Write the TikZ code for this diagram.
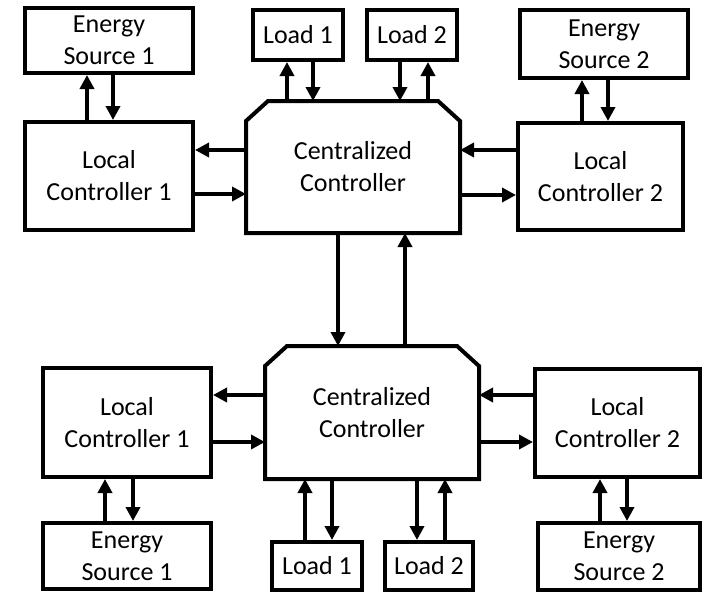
\documentclass[tikz,border=0pt]{standalone}
\usepackage{fontspec}
\setmainfont{Carlito}
\usetikzlibrary{arrows.meta, positioning}

\begin{document}
\begin{tikzpicture}[x=1pt, y=-1pt,
        box/.style={draw, line width=4pt, align=center, inner sep=0pt, font=\fontsize{26}{32}\selectfont},
        hub/.style={box, draw=none},
        arr/.style={line width=3.5pt, -{Triangle[length=14pt, width=14pt]}}]
        \useasboundingbox (0,0) rectangle (702,597);

        % upper system
        \node[hub, minimum width=210pt, minimum height=128pt] (cc) at (353,167) {Centralized\\Controller};
        \draw[line width=4pt] (cc.south west) -- ([yshift=-20pt]cc.north west) -- ([xshift=22pt]cc.north west)
            -- ([xshift=-22pt]cc.north east) -- ([yshift=-20pt]cc.north east) -- (cc.south east) -- cycle;
        \node[box, minimum width=168pt, minimum height=65pt] (es1) at (109,40.5) {Energy\\Source 1};
        \node[box, minimum width=168pt, minimum height=108pt] (lc1) at (109,176) {Local\\Controller 1};
        \node[box, minimum width=90pt, minimum height=50pt] (load1) at (298,35) {Load 1};
        \node[box, minimum width=90pt, minimum height=50pt] (load2) at (412,35) {Load 2};
        \node[box, minimum width=168pt, minimum height=68pt] (es2) at (604,44) {Energy\\Source 2};
        \node[box, minimum width=165pt, minimum height=107pt] (lc2) at (600.5,176.5) {Local\\Controller 2};

        \draw[arr] ([xshift=-22pt]es1.south |- lc1.north) -- ([xshift=-22pt]es1.south);
        \draw[arr] ([xshift=4pt]es1.south) -- ([xshift=4pt]es1.south |- lc1.north);
        \draw[arr] ([xshift=-22pt]es2.south |- lc2.north) -- ([xshift=-22pt]es2.south);
        \draw[arr] ([xshift=4pt]es2.south) -- ([xshift=4pt]es2.south |- lc2.north);
        \draw[arr] ([xshift=-11pt]load1.south |- cc.north) -- ([xshift=-11pt]load1.south);
        \draw[arr] ([xshift=15pt]load1.south) -- ([xshift=15pt]load1.south |- cc.north);
        \draw[arr] ([xshift=-12pt]load2.south) -- ([xshift=-12pt]load2.south |- cc.north);
        \draw[arr] ([xshift=16pt]load2.south |- cc.north) -- ([xshift=16pt]load2.south);
        \draw[arr] ([yshift=26pt]lc1.east -| cc.west) -- ([yshift=26pt]lc1.east);
        \draw[arr] ([yshift=-18pt]lc1.east) -- ([yshift=-18pt]lc1.east -| cc.west);
        \draw[arr] ([yshift=26.5pt]lc2.west) -- ([yshift=26.5pt]lc2.west -| cc.east);
        \draw[arr] ([yshift=-18.5pt]lc2.west -| cc.east) -- ([yshift=-18.5pt]lc2.west);

        % lower system
        \node[hub, minimum width=210pt, minimum height=129pt] (cc2) at (372,412.5) {Centralized\\Controller};
        \draw[line width=4pt] (cc2.south west) -- ([yshift=-20pt]cc2.north west) -- ([xshift=22pt]cc2.north west)
            -- ([xshift=-22pt]cc2.north east) -- ([yshift=-20pt]cc2.north east) -- (cc2.south east) -- cycle;
        \node[box, minimum width=168pt, minimum height=109pt] (lc3) at (127,422.5) {Local\\Controller 1};
        \node[box, minimum width=168pt, minimum height=66pt] (es3) at (127,556) {Energy\\Source 1};
        \node[box, minimum width=165pt, minimum height=108pt] (lc4) at (617.5,423) {Local\\Controller 2};
        \node[box, minimum width=162pt, minimum height=67pt] (es4) at (619,556.5) {Energy\\Source 2};
        \node[box, minimum width=90pt, minimum height=48pt] (load3) at (317,566) {Load 1};
        \node[box, minimum width=88pt, minimum height=48pt] (load4) at (429,566) {Load 2};

        \draw[arr] ([xshift=-22pt]es3.north) -- ([xshift=-22pt]es3.north |- lc3.south);
        \draw[arr] ([xshift=6pt]es3.north |- lc3.south) -- ([xshift=6pt]es3.north);
        \draw[arr] ([xshift=-19pt]es4.north) -- ([xshift=-19pt]es4.north |- lc4.south);
        \draw[arr] ([xshift=8pt]es4.north |- lc4.south) -- ([xshift=8pt]es4.north);
        \draw[arr] ([xshift=-12pt]load3.north) -- ([xshift=-12pt]load3.north |- cc2.south);
        \draw[arr] ([xshift=15pt]load3.north |- cc2.south) -- ([xshift=15pt]load3.north);
        \draw[arr] ([xshift=-12pt]load4.north |- cc2.south) -- ([xshift=-12pt]load4.north);
        \draw[arr] ([xshift=16pt]load4.north) -- ([xshift=16pt]load4.north |- cc2.south);
        \draw[arr] ([yshift=27.5pt]lc3.east -| cc2.west) -- ([yshift=27.5pt]lc3.east);
        \draw[arr] ([yshift=-19.5pt]lc3.east) -- ([yshift=-19.5pt]lc3.east -| cc2.west);
        \draw[arr] ([yshift=28pt]lc4.west) -- ([yshift=28pt]lc4.west -| cc2.east);
        \draw[arr] ([yshift=-19pt]lc4.west -| cc2.east) -- ([yshift=-19pt]lc4.west);

        % link between the two
        \draw[arr] ([xshift=-15pt]cc.south) -- ([xshift=-15pt]cc.south |- cc2.north);
        \draw[arr] ([xshift=52pt]cc.south |- cc2.north) -- ([xshift=52pt]cc.south);
\end{tikzpicture}
\end{document}
